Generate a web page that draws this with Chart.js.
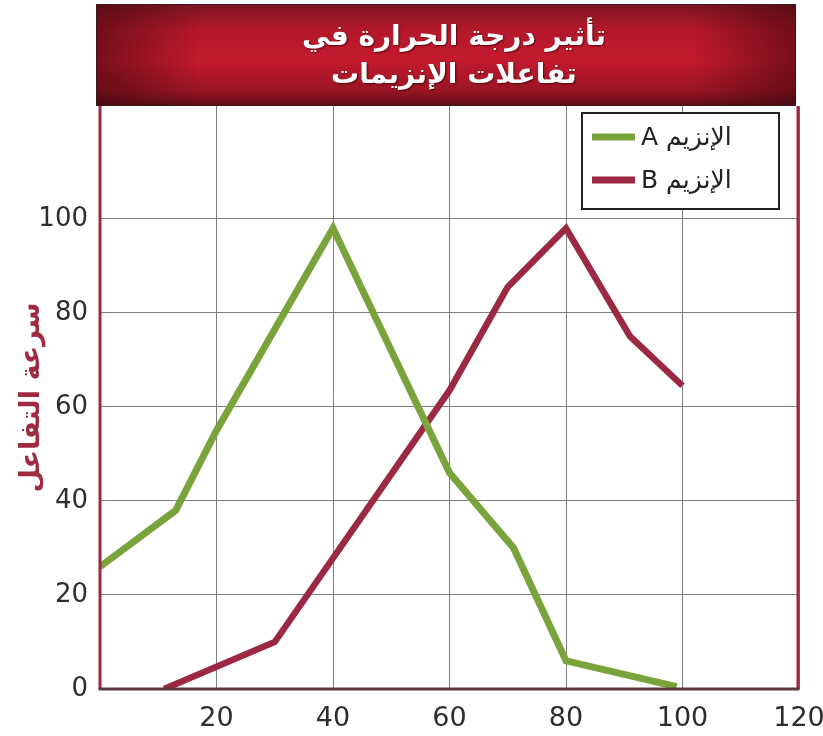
<!doctype html>
<html lang="ar">
<head>
	<meta charset="utf-8">
	<title>تأثير درجة الحرارة في تفاعلات الإنزيمات</title>
	<style>
		* {
			margin: 0;
			padding: 0;
		}

		body {
			background: #ffffff;
		}

		.chartBox {
			width: 823px;
			height: 736px;
		}
	</style>
</head>

<body>
	<div class="chartBox">
		<canvas id="myChart"></canvas>
	</div>

	<script src="https://cdn.jsdelivr.net/npm/chart.js"></script>

	<script>
		/*=====Data=====*/
		const enzymeATemp = [0, 13, 20, 40, 60, 71, 80, 99];
		const enzymeARate = [26, 38, 55, 98, 46, 30, 6, 0.5];
		const enzymeBTemp = [11, 30, 60, 70, 80, 91, 100];
		const enzymeBRate = [0, 10, 63.5, 85.5, 98, 75, 64.5];
		const xTickLabels = [20, 40, 60, 80, 100, 120];
		const yTickLabels = [0, 20, 40, 60, 80, 100];
		const seriesNames = ['الإنزيم A', 'الإنزيم B'];
		const titleLines = ['تأثير درجة الحرارة في', 'تفاعلات الإنزيمات'];
		const yTitle = 'سرعة التفاعل';
		/*=====End Data=====*/

		const green = '#7ba33c';
		const red = '#9c2942';
		const arabicFont = '"DejaVu Sans", sans-serif';

		/*=====Banner + frame=====*/
		const frame = {
			id: 'frame',
			beforeDraw(chart) {
				const {ctx, chartArea: {left, right, top}} = chart;
				const bx = left - 4, bw = right - left + 1, by = 4, bh = top - by;
				ctx.save();
				let g = ctx.createLinearGradient(0, by, 0, by + bh);
				g.addColorStop(0, '#7c1520');
				g.addColorStop(0.25, '#b4182b');
				g.addColorStop(0.55, '#c41a2e');
				g.addColorStop(0.85, '#9a1524');
				g.addColorStop(1, '#5e0f17');
				ctx.fillStyle = g;
				ctx.fillRect(bx, by, bw, bh);
				g = ctx.createLinearGradient(bx, 0, bx + bw, 0);
				g.addColorStop(0, 'rgba(60,5,10,0.55)');
				g.addColorStop(0.15, 'rgba(60,5,10,0)');
				g.addColorStop(0.85, 'rgba(60,5,10,0)');
				g.addColorStop(1, 'rgba(60,5,10,0.55)');
				ctx.fillStyle = g;
				ctx.fillRect(bx, by, bw, bh);
				ctx.strokeStyle = '#3a1a1e';
				ctx.lineWidth = 1;
				ctx.strokeRect(bx + 0.5, by + 0.5, bw - 1, bh - 1);

				ctx.direction = 'rtl';
				ctx.textAlign = 'center';
				ctx.textBaseline = 'middle';
				ctx.font = 'bold 28px ' + arabicFont;
				ctx.fillStyle = '#ffffff';
				ctx.shadowColor = 'rgba(40,0,0,0.7)';
				ctx.shadowOffsetX = 1;
				ctx.shadowOffsetY = 1;
				ctx.shadowBlur = 2;
				const cx = bx + bw / 2 + 8;
				ctx.fillText(titleLines[0], cx, 38);
				ctx.fillText(titleLines[1], cx, 76);
				ctx.restore();
			},
			afterDatasetsDraw(chart) {
				const {ctx, chartArea: {left, right, top, bottom}} = chart;
				ctx.save();
				ctx.lineWidth = 3;
				ctx.strokeStyle = red;
				ctx.beginPath();
				ctx.moveTo(left, top);
				ctx.lineTo(left, bottom);
				ctx.moveTo(right - 1, top);
				ctx.lineTo(right - 1, bottom);
				ctx.stroke();
				ctx.strokeStyle = '#5a3a3e';
				ctx.beginPath();
				ctx.moveTo(left - 1.5, bottom);
				ctx.lineTo(right + 0.5, bottom);
				ctx.stroke();

				// legend box
				const lx = 582, ly = 113, lw = 197, lh = 96;
				ctx.fillStyle = '#ffffff';
				ctx.fillRect(lx, ly, lw, lh);
				ctx.lineWidth = 2;
				ctx.strokeStyle = '#222222';
				ctx.strokeRect(lx, ly, lw, lh);
				chart.data.datasets.forEach((ds, i) => {
					const y = ly + 24 + i * 43;
					ctx.strokeStyle = ds.borderColor;
					ctx.lineWidth = 7;
					ctx.beginPath();
					ctx.moveTo(lx + 10, y);
					ctx.lineTo(lx + 53, y);
					ctx.stroke();
					ctx.direction = 'rtl';
					ctx.textAlign = 'left';
					ctx.textBaseline = 'middle';
					ctx.font = '25px ' + arabicFont;
					ctx.fillStyle = '#222222';
					ctx.fillText(ds.label, lx + 59, y + 1);
				});
				ctx.restore();
			}
		};
		/*=====End Banner + frame=====*/

		const config = {
			type: 'line',
			data: {
				datasets: [{
					label: seriesNames[0],
					data: enzymeATemp.map((x, i) => ({x, y: enzymeARate[i]})),
					borderColor: green,
					borderWidth: 7,
					pointRadius: 0,
					tension: 0
				}, {
					label: seriesNames[1],
					data: enzymeBTemp.map((x, i) => ({x, y: enzymeBRate[i]})),
					borderColor: red,
					borderWidth: 6.5,
					pointRadius: 0,
					tension: 0
				}]
			},
			options: {
				responsive: true,
				maintainAspectRatio: false,
				animation: false,
				layout: {padding: {top: 106, right: 24, left: 0, bottom: 0}},
				plugins: {
					legend: {display: false},
					tooltip: {enabled: false}
				},
				scales: {
					x: {
						type: 'linear',
						min: 0,
						max: 120,
						afterBuildTicks: s => { s.ticks = xTickLabels.map(v => ({value: v})); },
						afterFit: s => { s.height = 47; s.paddingLeft = 0; s.paddingRight = 0; },
						grid: {color: '#7d7d7d', lineWidth: 1, drawTicks: false},
						border: {display: false},
						ticks: {
							color: '#2e2e2e',
							padding: 14,
							maxRotation: 0,
							font: {family: '"DejaVu Sans"', size: 27}
						}
					},
					y: {
						type: 'linear',
						min: 0,
						max: 124,
						afterBuildTicks: s => { s.ticks = yTickLabels.map(v => ({value: v})); },
						afterFit: s => { s.width = 100; s.paddingTop = 0; s.paddingBottom = 0; },
						grid: {color: '#7d7d7d', lineWidth: 1, drawTicks: false},
						border: {display: false},
						ticks: {
							color: '#2e2e2e',
							padding: 12,
							font: {family: '"DejaVu Sans"', size: 26}
						},
						title: {
							display: true,
							text: yTitle,
							color: '#a02a40',
							padding: {top: 16, bottom: 0},
							font: {family: arabicFont, size: 27, weight: 'bold'}
						}
					}
				}
			},
			plugins: [frame]
		};

		const myChart = new Chart(document.getElementById('myChart'), config);
	</script>
</body>

</html>
